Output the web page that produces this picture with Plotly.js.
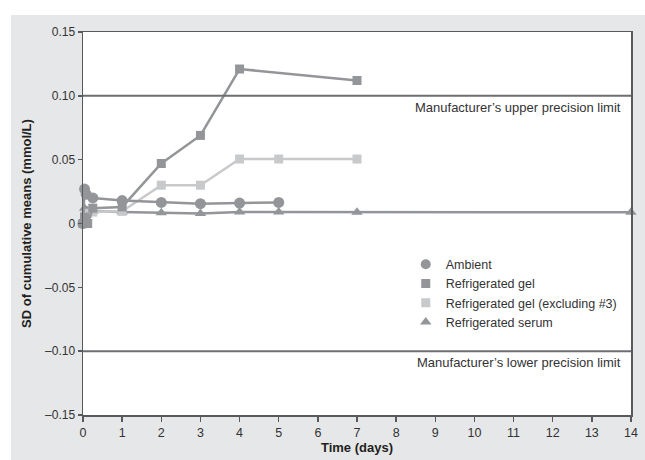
<!DOCTYPE html>
<html>
<head>
<meta charset="utf-8">
<script src="https://cdn.plot.ly/plotly-3.0.1.min.js"></script>
<style>html,body{margin:0;padding:0;background:#fff;}#chart{width:645px;height:460px;}</style>
</head>
<body>
<div id="chart"></div>
<script>
// ---- Data ----
const ambientDays  = [0, 0.04, 0.08, 0.25, 1, 2, 3, 4, 5];
const ambientSD    = [0, 0.027, 0.023, 0.020, 0.018, 0.0165, 0.0155, 0.016, 0.0165];

const gelDays      = [0, 0.04, 0.12, 0.25, 1, 2, 3, 4, 7];
const gelSD        = [0, 0.005, 0.0, 0.012, 0.013, 0.047, 0.069, 0.121, 0.112];

const gelExclDays  = [0, 0.04, 0.12, 0.25, 1, 2, 3, 4, 5, 7];
const gelExclSD    = [0, 0.006, 0.008, 0.009, 0.0095, 0.030, 0.030, 0.0505, 0.0505, 0.0505];

const serumDays    = [0, 0.04, 0.12, 0.25, 1, 2, 3, 4, 5, 7, 14];
const serumSD      = [0, 0.012, 0.010, 0.0095, 0.009, 0.0085, 0.0078, 0.009, 0.009, 0.0088, 0.0088];

const seriesNames  = ['Ambient', 'Refrigerated gel', 'Refrigerated gel (excluding #3)', 'Refrigerated serum'];

const limitValues  = [0.10, -0.10];
const limitLabels  = ['Manufacturer\u2019s upper precision limit', 'Manufacturer\u2019s lower precision limit'];

const xTickVals    = [0,1,2,3,4,5,6,7,8,9,10,11,12,13,14];
const yTickVals    = [-0.15, -0.10, -0.05, 0, 0.05, 0.10, 0.15];
const yTickText    = ['\u20130.15', '\u20130.10', '\u20130.05', '0', '0.05', '0.10', '0.15'];

// ---- Styles ----
const dark = '#939598';
const light = '#c8c9cb';
const axisCol = '#58595b';
const font = 'Liberation Sans, Arial, sans-serif';

function line(x, y, color, symbol, size) {
  return {x: x, y: y, mode: 'lines+markers', type: 'scatter', showlegend: false,
    cliponaxis: false, hoverinfo: 'skip',
    line: {color: color, width: 2.5}, marker: {color: color, symbol: symbol, size: size}};
}
function legendItem(name, color, symbol, size) {
  return {x: [null], y: [null], mode: 'markers', type: 'scatter', name: name,
    marker: {color: color, symbol: symbol, size: size}};
}

const traces = [
  line(serumDays, serumSD, dark, 'triangle-up', 10),
  line(gelExclDays, gelExclSD, light, 'square', 9),
  line(gelDays, gelSD, dark, 'square', 9),
  line(ambientDays, ambientSD, dark, 'circle', 11),
  legendItem(seriesNames[0], dark, 'circle', 10),
  legendItem(seriesNames[1], dark, 'square', 9),
  legendItem(seriesNames[2], light, 'square', 9),
  legendItem(seriesNames[3], dark, 'triangle-up', 10)
];

const shapes = [
  // white strips outside the grey panel
  {type: 'rect', xref: 'paper', yref: 'paper', x0: -0.3, x1: -0.1314, y0: -0.3, y1: 1.2,
   fillcolor: '#ffffff', line: {width: 0}, layer: 'below'},
  {type: 'rect', xref: 'paper', yref: 'paper', x0: -0.3, x1: 1.2, y0: 1.0444, y1: 1.2,
   fillcolor: '#ffffff', line: {width: 0}, layer: 'below'}
];
const annotations = [];
limitValues.forEach(function (v, i) {
  shapes.push({type: 'line', xref: 'paper', yref: 'y', x0: 0, x1: 1, y0: v, y1: v,
    line: {color: '#6d6e71', width: 2}});
  annotations.push({xref: 'paper', yref: 'y', x: 1, y: v, xanchor: 'right', yanchor: 'top',
    xshift: -8, yshift: -2, showarrow: false, text: limitLabels[i],
    font: {family: font, size: 13, color: '#333333'}});
});

const layout = {
  width: 645, height: 460,
  paper_bgcolor: '#e6e7e8', plot_bgcolor: '#ffffff',
  margin: {l: 83, r: 14, t: 32, b: 45},
  font: {family: font, size: 12, color: '#333333'},
  showlegend: true,
  legend: {x: 0.589, y: 0.432, xanchor: 'left', yanchor: 'top', bgcolor: 'rgba(0,0,0,0)',
    font: {family: font, size: 12.5, color: '#333333'}, tracegroupgap: 0, itemwidth: 30},
  xaxis: {range: [0, 14], tickvals: xTickVals, ticks: 'outside', ticklen: 5, tickwidth: 1.5,
    tickcolor: axisCol, showline: true, linecolor: axisCol, linewidth: 1.5, mirror: true,
    showgrid: false, zeroline: false, fixedrange: true,
    tickfont: {family: font, size: 12.5, color: '#333333'},
    title: {text: '<b>Time (days)</b>', standoff: 4, font: {family: font, size: 13, color: '#231f20'}}},
  yaxis: {range: [-0.15, 0.15], tickvals: yTickVals, ticktext: yTickText, ticks: 'outside',
    ticklen: 4, tickwidth: 1.5, tickcolor: axisCol, showline: true, linecolor: axisCol,
    linewidth: 1.5, mirror: true, showgrid: false, zeroline: false, fixedrange: true,
    tickfont: {family: font, size: 12, color: '#333333'},
    title: {text: '<b>SD of cumulative means (mmol/L)</b>', standoff: 10, font: {family: font, size: 13, color: '#231f20'}}},
  shapes: shapes,
  annotations: annotations
};

Plotly.newPlot('chart', traces, layout, {displayModeBar: false, staticPlot: true});
</script>
</body>
</html>
